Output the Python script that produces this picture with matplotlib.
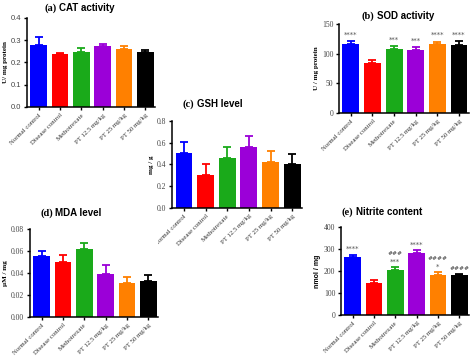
import matplotlib
matplotlib.use("Agg")
from matplotlib import pyplot as plt
import numpy as np

groups = ['Normal control', 'Disease control', 'Methotrexate',
          'PT 12.5 mg/kg', 'PT 25 mg/kg', 'PT 50 mg/kg']
colors = ['#0000ff', '#ff0000', '#1aaa1a', '#9b00d8', '#ff8000', '#000000']

cat_mean = [0.277, 0.237, 0.249, 0.272, 0.261, 0.245]
cat_err = [0.037, 0.007, 0.017, 0.012, 0.015, 0.012]

sod_mean = [117, 85, 108, 107, 117, 115]
sod_err = [4.5, 5, 4.5, 3.5, 3.5, 6]
sod_marks = ['****', '', '***', '***', '****', '****']

gsh_mean = [0.504, 0.299, 0.461, 0.559, 0.418, 0.400]
gsh_err = [0.100, 0.101, 0.104, 0.101, 0.101, 0.100]

mda_mean = [0.0556, 0.0504, 0.0614, 0.0394, 0.0305, 0.0327]
mda_err = [0.0042, 0.0061, 0.0055, 0.0082, 0.0061, 0.0058]

nit_mean = [262, 145, 205, 283, 183, 179]
nit_err = [11, 14, 12, 12, 12, 9]
nit_stars = ['****', '', '***', '****', '*', '']
nit_hash = ['', '', '###', '', '####', '####']

fig = plt.figure(figsize=(4.74, 3.59), dpi=100)


def panel(rect, mean, err, ylim, yticks, ytl, ylabel, title, tx, ty, ysans=False, ylsans=False):
    ax = fig.add_axes(rect)
    x = np.arange(len(groups))
    ax.bar(x, mean, width=0.78, color=colors, zorder=2)
    for i in range(len(groups)):
        ax.errorbar(x[i], mean[i], yerr=[[0], [err[i]]], color=colors[i],
                    capsize=3.2, elinewidth=1.3, capthick=1.3, zorder=1)
    ax.set_xlim(-0.55, 5.45)
    ax.set_ylim(*ylim)
    ax.set_yticks(yticks)
    ax.set_yticklabels(ytl, fontsize=5.5,
                       family='Liberation Sans' if ysans else 'Liberation Serif',
                       color='#444444')
    ax.set_xticks(x)
    ax.set_xticklabels(groups, rotation=45, ha='right', rotation_mode='anchor',
                       fontsize=4.9, family='Liberation Serif', color='#333333')
    for s in ['top', 'right']:
        ax.spines[s].set_visible(False)
    for s in ['left', 'bottom']:
        ax.spines[s].set_linewidth(1.1)
    ax.tick_params(length=2.5, width=1.0, pad=1.5)
    ax.set_ylabel(ylabel, fontsize=5, fontweight='bold',
                  family='Liberation Sans' if ylsans else 'Liberation Serif', labelpad=2)
    fig.text(tx, ty, title[:3], fontsize=7.5, fontweight='bold',
             family='Liberation Serif', ha='right', va='center')
    fig.text(tx + 0.005, ty, title[4:], fontsize=7, fontweight='bold',
             family='Liberation Sans', ha='left', va='center')
    return ax


panel([0.057, 0.702, 0.270, 0.248], cat_mean, cat_err, (0, 0.4),
      [0, 0.1, 0.2, 0.3, 0.4], ['0.0', '0.1', '0.2', '0.3', '0.4'],
      'U/ mg protein', '(a) CAT activity', 0.12, 0.978, ysans=True)

axb = panel([0.715, 0.685, 0.274, 0.248], sod_mean, sod_err, (0, 150),
            [0, 50, 100, 150], ['0', '50', '100', '150'],
            'U / mg protein', '(b) SOD activity', 0.79, 0.955)
for i, m in enumerate(sod_marks):
    if m:
        axb.text(i, sod_mean[i] + sod_err[i] + 6, m, ha='center', va='bottom',
                 fontsize=5, color='#555555')

panel([0.363, 0.421, 0.274, 0.242], gsh_mean, gsh_err, (0, 0.8),
      [0, 0.2, 0.4, 0.6, 0.8], ['0.0', '0.2', '0.4', '0.6', '0.8'],
      'mg / g', '(c) GSH level', 0.41, 0.71)

panel([0.063, 0.117, 0.270, 0.245], mda_mean, mda_err, (0, 0.08),
      [0, 0.02, 0.04, 0.06, 0.08], ['0.00', '0.02', '0.04', '0.06', '0.08'],
      '\u00b5M / mg', '(d) MDA level', 0.112, 0.407)

axe = panel([0.719, 0.123, 0.270, 0.245], nit_mean, nit_err, (0, 400),
            [0, 100, 200, 300, 400], ['0', '100', '200', '300', '400'],
            'nmol / mg', '(e) Nitrite content', 0.745, 0.41, ylsans=True)
for i in range(len(groups)):
    top = nit_mean[i] + nit_err[i] + 12
    if nit_stars[i]:
        axe.text(i, top, nit_stars[i], ha='center', va='bottom', fontsize=5,
                 color='#555555')
        top += 40
    if nit_hash[i]:
        axe.text(i, top, nit_hash[i], ha='center', va='bottom', fontsize=4.3,
                 color='#333333', style='italic')

fig.savefig('out.png', dpi=100)
